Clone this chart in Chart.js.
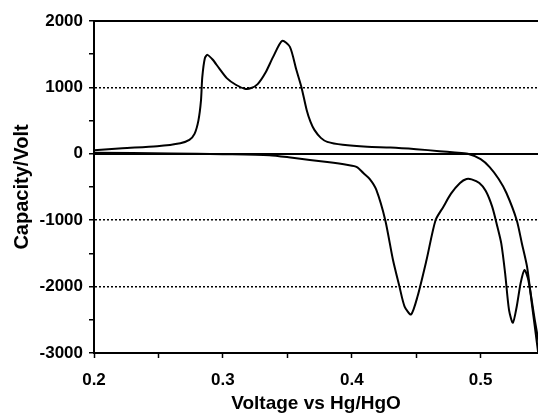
<!DOCTYPE html>
<html>
<head>
<meta charset="utf-8">
<script src="https://cdn.jsdelivr.net/npm/chart.js@4/dist/chart.umd.min.js"></script>
<style>
  html, body { margin: 0; padding: 0; background: #fff; overflow: hidden; }
</style>
</head>
<body>
<canvas id="myChart" width="538" height="413"></canvas>
<script>
// forward sweep (upper branch)
var fwdVolt = [0.200, 0.222, 0.249, 0.267, 0.274, 0.278, 0.281, 0.283, 0.284, 0.286, 0.288, 0.292, 0.297, 0.303, 0.310, 0.317, 0.322, 0.327, 0.333, 0.339, 0.346, 0.352, 0.357, 0.361, 0.365, 0.368, 0.371, 0.376, 0.381, 0.393, 0.412, 0.430, 0.450, 0.468, 0.480, 0.490, 0.500, 0.507, 0.514, 0.520, 0.528, 0.532, 0.536, 0.540, 0.544, 0.548]
var fwdCap = [55, 85, 115, 160, 210, 300, 500, 800, 1150, 1440, 1490, 1420, 1290, 1140, 1040, 980, 990, 1050, 1220, 1460, 1700, 1610, 1265, 1000, 660, 480, 360, 240, 180, 135, 105, 95, 70, 40, 20, 0, -80, -200, -380, -590, -1000, -1350, -1700, -2300, -2900, -3500]

// reverse sweep (lower branch)
var revVolt = [0.549, 0.542, 0.537, 0.534, 0.531, 0.528, 0.525, 0.522, 0.519, 0.516, 0.513, 0.509, 0.504, 0.499, 0.493, 0.489, 0.484, 0.477, 0.471, 0.465, 0.458, 0.451, 0.446, 0.441, 0.437, 0.432, 0.426, 0.419, 0.414, 0.409, 0.404, 0.397, 0.381, 0.354, 0.336, 0.300, 0.260, 0.200]
var revCap = [-3300, -2500, -1900, -1750, -1950, -2300, -2545, -2350, -1800, -1350, -1100, -800, -560, -440, -385, -380, -440, -600, -800, -1000, -1600, -2150, -2420, -2300, -2000, -1600, -1000, -540, -380, -290, -200, -170, -125, -60, -20, -5, 5, 15]

var solidLevels = [0, 2000]

function toPoints(xs, ys) {
    var pts = []
    for (var i = 0; i < xs.length; i++) {
        pts.push({ x: xs[i], y: ys[i] })
    }
    return pts
}

var refLines = {
    id: 'refLines',
    beforeDatasetsDraw: function (chart) {
        var ctx = chart.ctx
        var area = chart.chartArea
        var yScale = chart.scales.y
        ctx.save()
        ctx.strokeStyle = '#000'
        ctx.lineWidth = 2
        solidLevels.forEach(function (v) {
            var py = Math.round(yScale.getPixelForValue(v))
            ctx.beginPath()
            ctx.moveTo(area.left, py)
            ctx.lineTo(area.right, py)
            ctx.stroke()
        })
        ctx.restore()
    }
}

var tickFont = { family: 'Liberation Sans, Arial, sans-serif', size: 17, weight: 'bold' }

var myChart = document.getElementById('myChart').getContext('2d')

var chart = new Chart(myChart, {
    type: 'line',
    data: {
        datasets: [
            {
                data: toPoints(fwdVolt, fwdCap),
                borderColor: '#000',
                borderWidth: 2,
                pointRadius: 0,
                tension: 0.25,
                fill: false
            },
            {
                data: toPoints(revVolt, revCap),
                borderColor: '#000',
                borderWidth: 2,
                pointRadius: 0,
                tension: 0.25,
                fill: false
            }
        ]
    },
    options: {
        responsive: false,
        animation: false,
        layout: { padding: { top: 21, right: 0, left: 0, bottom: -2 } },
        plugins: {
            legend: { display: false },
            tooltip: { enabled: false }
        },
        scales: {
            x: {
                type: 'linear',
                min: 0.2,
                max: 0.5445,
                afterFit: function (scale) {
                    scale.height = 62
                    scale.paddingLeft = 0
                    scale.paddingRight = 0
                },
                ticks: {
                    stepSize: 0.05,
                    includeBounds: false,
                    autoSkip: false,
                    maxRotation: 0,
                    color: '#000',
                    font: tickFont,
                    padding: 12,
                    callback: function (v) {
                        var t = v * 10
                        return Math.abs(t - Math.round(t)) < 1e-6 ? v.toFixed(1) : ''
                    }
                },
                grid: {
                    drawOnChartArea: false,
                    tickLength: 5,
                    tickColor: '#000',
                    tickWidth: 1.5
                },
                border: { color: '#000', width: 2 },
                title: {
                    display: true,
                    text: 'Voltage vs Hg/HgO',
                    color: '#000',
                    font: { family: 'Liberation Sans, Arial, sans-serif', size: 19, weight: 'bold' },
                    padding: { top: 0, bottom: 0 }
                }
            },
            y: {
                min: -3000,
                max: 2000,
                afterFit: function (scale) { scale.width = 94 },
                ticks: {
                    stepSize: 500,
                    includeBounds: false,
                    autoSkip: false,
                    color: '#000',
                    font: tickFont,
                    padding: 6,
                    callback: function (v) {
                        return v % 1000 === 0 ? v : ''
                    }
                },
                grid: {
                    color: function (c) {
                        var v = c.tick ? c.tick.value : 0
                        return (v % 1000 === 0) ? '#000' : 'rgba(0,0,0,0)'
                    },
                    lineWidth: 1.5,
                    tickLength: 5,
                    tickColor: '#000',
                    tickWidth: 1.5
                },
                border: { color: '#000', width: 2, dash: [2, 2] },
                title: {
                    display: true,
                    text: 'Capacity/Volt',
                    color: '#000',
                    font: { family: 'Liberation Sans, Arial, sans-serif', size: 20, weight: 'bold' },
                    padding: { top: 10, bottom: 0 }
                }
            }
        }
    },
    plugins: [refLines]
})
</script>
</body>
</html>
